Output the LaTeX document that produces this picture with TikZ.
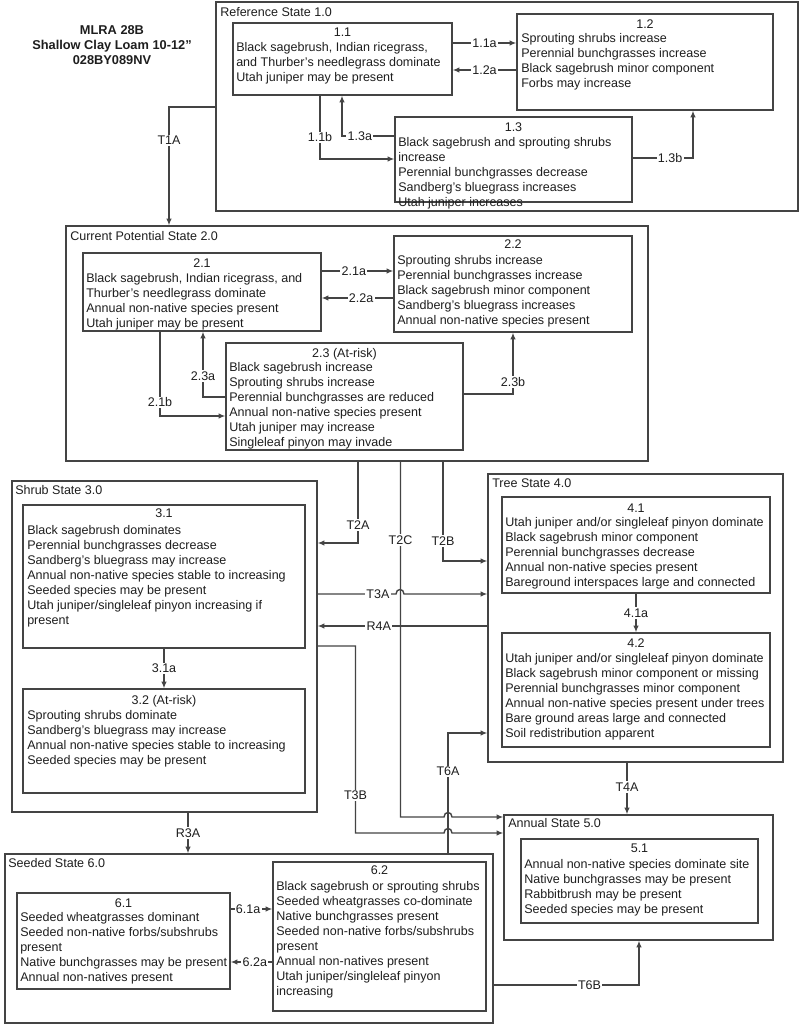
\documentclass[tikz,border=0pt]{standalone}
\usepackage{fontspec}
\setmainfont{Liberation Sans}
\usetikzlibrary{fit,arrows.meta}
\definecolor{edge}{HTML}{444444}
\definecolor{ink}{HTML}{1E1E1E}
\begin{document}
\begin{tikzpicture}[x=0.75pt,y=-0.75pt,
  box/.style={draw=edge, line width=0.9pt, inner sep=0pt, rectangle},
  txt/.style={anchor=north west, align=left, inner sep=0pt, text=ink, font=\fontsize{9.4}{11.25}\selectfont},
  ttl/.style={anchor=base, inner sep=0pt, text=ink, font=\fontsize{9.4}{11.25}\selectfont},
  slbl/.style={anchor=base west, inner sep=0pt, text=ink, font=\fontsize{9.4}{11.25}\selectfont},
  lbl/.style={fill=white, inner sep=1pt, text=ink, font=\fontsize{9.4}{11.25}\selectfont},
  arr/.style={draw=edge, line width=1.05pt, -{Latex[length=5pt,width=4pt]}},
]
\path[fill=white, use as bounding box] (0,0) rectangle (800,1025);

% header
\node[anchor=north, align=center, inner sep=0pt, text=ink, font=\bfseries\fontsize{9.6}{11.25}\selectfont] (hdr) at (112,25.5) {MLRA 28B\\Shallow Clay Loam 10-12"\\028BY089NV};

% ---------- State 1.0 ----------
\node[box, fit={(216,2) (798,211)}] (s1) {};
\node[slbl] (s1l) at (220,16.5) {Reference State 1.0};
\node[box, fit={(233,23) (452,95)}] (b11) {};
\node[ttl] (h11) at (342.5,36.5) {1.1};
\node[txt] (t11) at (236,42.5) {Black sagebrush, Indian ricegrass,\\and Thurber's needlegrass dominate\\Utah juniper may be present};
\node[box, fit={(517,14) (773,110)}] (b12) {};
\node[ttl] (h12) at (645,28.5) {1.2};
\node[txt] (t12) at (521,33.5) {Sprouting shrubs increase\\Perennial bunchgrasses increase\\Black sagebrush minor component\\Forbs may increase};
\node[box, fit={(395,117) (632,202)}] (b13) {};
\node[ttl] (h13) at (513.5,131.5) {1.3};
\node[txt] (t13) at (398,137.5) {Black sagebrush and sprouting shrubs\\increase\\Perennial bunchgrasses decrease\\Sandberg's bluegrass increases\\Utah juniper increases};

% ---------- State 2.0 ----------
\node[box, fit={(66,226) (648,461)}] (s2) {};
\node[slbl] (s2l) at (70,240.5) {Current Potential State 2.0};
\node[box, fit={(83,253) (321,331)}] (b21) {};
\node[ttl] (h21) at (202,267.5) {2.1};
\node[txt] (t21) at (86,273.5) {Black sagebrush, Indian ricegrass, and\\Thurber's needlegrass dominate\\Annual non-native species present\\Utah juniper may be present};
\node[box, fit={(394,236) (632,332)}] (b22) {};
\node[ttl] (h22) at (513,248.5) {2.2};
\node[txt] (t22) at (397,255.5) {Sprouting shrubs increase\\Perennial bunchgrasses increase\\Black sagebrush minor component\\Sandberg's bluegrass increases\\Annual non-native species present};
\node[box, fit={(226,343) (463,450)}] (b23) {};
\node[ttl] (h23) at (344.5,357.5) {2.3 (At-risk)};
\node[txt] (t23) at (229,362.5) {Black sagebrush increase\\Sprouting shrubs increase\\Perennial bunchgrasses are reduced\\Annual non-native species present\\Utah juniper may increase\\Singleleaf pinyon may invade};

% ---------- State 3.0 ----------
\node[box, fit={(12,481) (317,812)}] (s3) {};
\node[slbl] (s3l) at (15,494.5) {Shrub State 3.0};
\node[box, fit={(23,505) (305,648)}] (b31) {};
\node[ttl] (h31) at (164,517.5) {3.1};
\node[txt] (t31) at (27,525.5) {Black sagebrush dominates\\Perennial bunchgrasses decrease\\Sandberg's bluegrass may increase\\Annual non-native species stable to increasing\\Seeded species may be present\\Utah juniper/singleleaf pinyon increasing if\\present};
\node[box, fit={(23,689) (305,793)}] (b32) {};
\node[ttl] (h32) at (164,704.5) {3.2 (At-risk)};
\node[txt] (t32) at (27,710.5) {Sprouting shrubs dominate\\Sandberg's bluegrass may increase\\Annual non-native species stable to increasing\\Seeded species may be present};

% ---------- State 4.0 ----------
\node[box, fit={(488,474) (783,762)}] (s4) {};
\node[slbl] (s4l) at (492,487.5) {Tree State 4.0};
\node[box, fit={(502,497) (770,593)}] (b41) {};
\node[ttl] (h41) at (636,512.5) {4.1};
\node[txt] (t41) at (505,517.5) {Utah juniper and/or singleleaf pinyon dominate\\Black sagebrush minor component\\Perennial bunchgrasses decrease\\Annual non-native species present\\Bareground interspaces large and connected};
\node[box, fit={(502,633) (770,747)}] (b42) {};
\node[ttl] (h42) at (636,647.5) {4.2};
\node[txt] (t42) at (505,653.5) {Utah juniper and/or singleleaf pinyon dominate\\Black sagebrush minor component or missing\\Perennial bunchgrasses minor component\\Annual non-native species present under trees\\Bare ground areas large and connected\\Soil redistribution apparent};

% ---------- State 5.0 ----------
\node[box, fit={(504,815) (773,940)}] (s5) {};
\node[slbl] (s5l) at (508,827.5) {Annual State 5.0};
\node[box, fit={(521,839) (758,923)}] (b51) {};
\node[ttl] (h51) at (639.5,852.5) {5.1};
\node[txt] (t51) at (524,859.5) {Annual non-native species dominate site\\Native bunchgrasses may be present\\Rabbitbrush may be present\\Seeded species may be present};

% ---------- State 6.0 ----------
\node[box, fit={(5,854) (493,1023)}] (s6) {};
\node[slbl] (s6l) at (8,867.5) {Seeded State 6.0};
\node[box, fit={(17,893) (230,989)}] (b61) {};
\node[ttl] (h61) at (123.5,907.5) {6.1};
\node[txt] (t61) at (20,912.5) {Seeded wheatgrasses dominant\\Seeded non-native forbs/subshrubs\\present\\Native bunchgrasses may be present\\Annual non-natives present};
\node[box, fit={(273,862) (486,1011)}] (b62) {};
\node[ttl] (h62) at (379.5,874.5) {6.2};
\node[txt] (t62) at (276,881.5) {Black sagebrush or sprouting shrubs\\Seeded wheatgrasses co-dominate\\Native bunchgrasses present\\Seeded non-native forbs/subshrubs\\present\\Annual non-natives present\\Utah juniper/singleleaf pinyon\\increasing};

% ---------- connectors within states ----------
\draw[arr] (b11.east |- 0,43) -- node[lbl, pos=0.5] (l11a) {1.1a} (b12.west |- 0,43);
\draw[arr] (b12.west |- 0,70) -- node[lbl, pos=0.5] (l12a) {1.2a} (b11.east |- 0,70);
\draw[arr] (b11.south -| 320,0) |- node[lbl, pos=0.33] (l11b) {1.1b} (b13.west |- 0,159);
\draw[arr] (b13.west |- 0,136) -| node[lbl, pos=0.33] (l13a) {1.3a} (b11.south -| 342,0);
\draw[arr] (b13.east |- 0,158) -| node[lbl, pos=0.31] (l13b) {1.3b} (b12.south -| 693,0);

\draw[arr] (b21.east |- 0,271) -- node[lbl, pos=0.45] (l21a) {2.1a} (b22.west |- 0,271);
\draw[arr] (b22.west |- 0,298) -- node[lbl, pos=0.45] (l22a) {2.2a} (b21.east |- 0,298);
\draw[arr] (b21.south -| 160,0) |- node[lbl, pos=0.42] (l21b) {2.1b} (b23.west |- 0,416);
\draw[arr] (b23.west |- 0,397) -| node[lbl, pos=0.66] (l23a) {2.3a} (b21.south -| 203,0);
\draw[arr] (b23.east |- 0,394) -| node[lbl, pos=0.6] (l23b) {2.3b} (b22.south -| 513,0);

\draw[arr] (b31.south) -- node[lbl] (l31a) {3.1a} (b32.north);
\draw[arr] (b41.south) -- node[lbl] (l41a) {4.1a} (b42.north);
\draw[arr] (b61.east |- 0,909) -- node[lbl, pos=0.42] (l61a) {6.1a} (b62.west |- 0,909);
\draw[arr] (b62.west |- 0,962) -- node[lbl, pos=0.42] (l62a) {6.2a} (b61.east |- 0,962);

% ---------- transitions between states ----------
\draw[arr] (s1.west |- 0,107) -| node[lbl, pos=0.64] (lT1A) {T1A} (s2.north -| 169,0);
\draw[arr] (s2.south -| 358,0) |- node[lbl, pos=0.39] (lT2A) {T2A} (s3.east |- 0,543);
\draw[arr] (s2.south -| 443,0) |- node[lbl, pos=0.4] (lT2B) {T2B} (s4.west |- 0,561);
\draw[arr] (s2.south -| 400.5,0) -- node[lbl, pos=0.22] (lT2C) {T2C} (400.5,817) -- (444,817) .. controls (444,811) and (452,811) .. (452,817) -- (s5.west |- 0,817);
\draw[arr] (s3.east |- 0,594) -- node[lbl, pos=0.77] (lT3A) {T3A} (396,594) .. controls (396,588) and (404,588) .. (404,594) -- (s4.west |- 0,594);
\draw[arr] (s4.west |- 0,626) -- node[lbl, pos=0.64] (lR4A) {R4A} (s3.east |- 0,626);
\draw[arr] (s3.east |- 0,646) -- (355.5,646) -- node[lbl, pos=0.8] (lT3B) {T3B} (355.5,833) -- (444,833) .. controls (444,827) and (452,827) .. (452,833) -- (s5.west |- 0,833);
\draw[arr] (s6.north -| 448,0) |- node[lbl, pos=0.34] (lT6A) {T6A} (s4.west |- 0,733);
\draw[arr] (s4.south -| 627,0) -- node[lbl, pos=0.47] (lT4A) {T4A} (s5.north -| 627,0);
\draw[arr] (s6.east |- 0,985) -| node[lbl, pos=0.33] (lT6B) {T6B} (s5.south -| 639,0);
\draw[arr] (s3.south -| 188,0) -- node[lbl] (lR3A) {R3A} (s6.north -| 188,0);

\end{tikzpicture}
\end{document}
